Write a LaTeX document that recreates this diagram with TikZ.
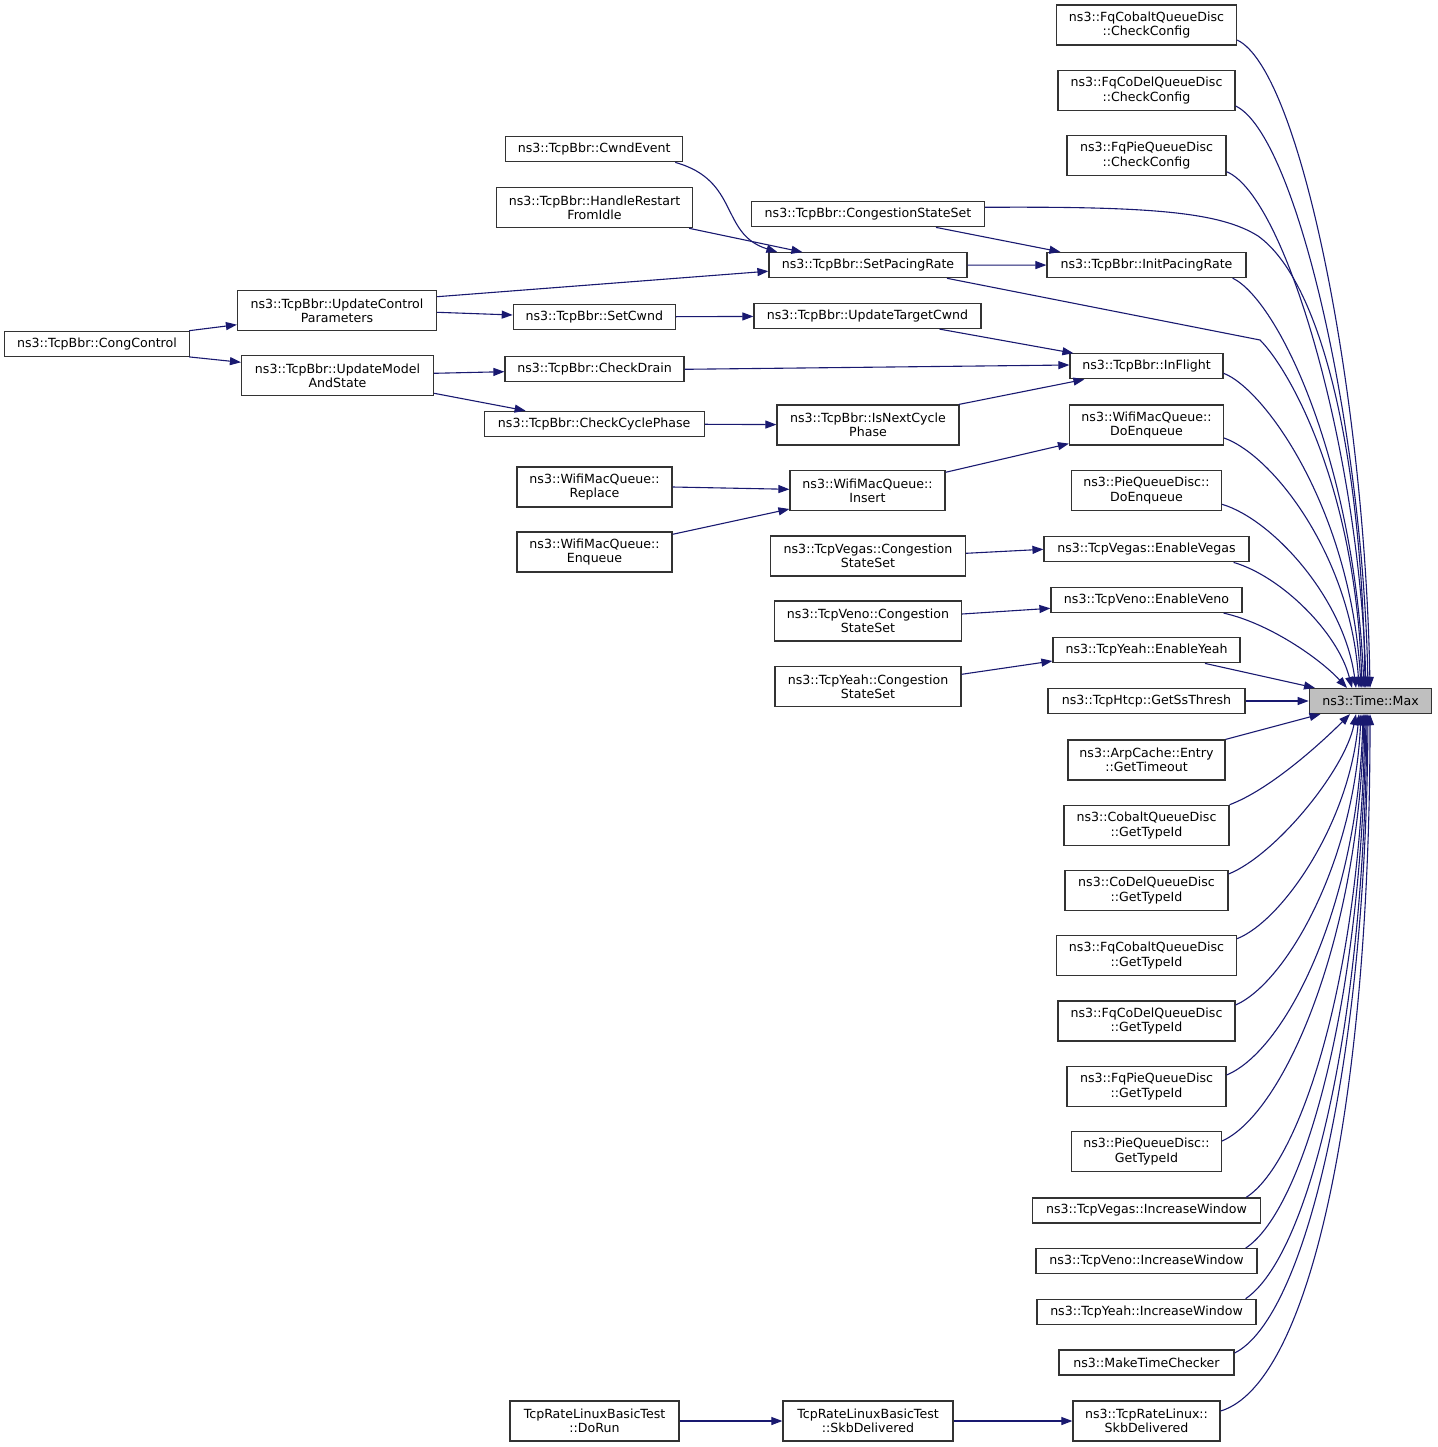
\documentclass[tikz,border=0pt]{standalone}
\usepackage{fontspec}
\setmainfont{DejaVu Sans}
\usetikzlibrary{arrows.meta}
\definecolor{edgeblue}{HTML}{191970}
\definecolor{boxline}{HTML}{333333}
\definecolor{maxfill}{HTML}{BFBFBF}
\newcommand{\carw}{-{Triangle[length=11pt,width=8pt]}}
\tikzset{
  fn/.style={draw=boxline, line width=1.2pt, fill=white, align=center, inner sep=0pt,
    minimum height=25, font=\fontsize{12.6}{14.5}\selectfont},
  fntwo/.style={fn, minimum height=40},
  callline/.style={draw=edgeblue, line width=1.1pt}
}
\begin{document}
\begin{tikzpicture}[x=1pt,y=-1pt]
\useasboundingbox (0,0) rectangle (1437,1447);
%the called function
\node[fn, fill=maxfill, minimum width=122.5] (max) at (1370.5,701) {ns3::Time::Max};
%direct callers
\node[fntwo, minimum width=180] (fqcobcc) at (1146.5,25) {ns3::FqCobaltQueueDisc\\::CheckConfig};
\node[fntwo, minimum width=177] (fqcodelcc) at (1146.5,90.5) {ns3::FqCoDelQueueDisc\\::CheckConfig};
\node[fntwo, minimum width=159] (fqpiecc) at (1146.5,155.7) {ns3::FqPieQueueDisc\\::CheckConfig};
\node[fn, minimum width=199] (bbrinitpr) at (1146.5,265) {ns3::TcpBbr::InitPacingRate};
\node[fn, minimum width=153] (bbrinflight) at (1146.5,366.3) {ns3::TcpBbr::InFlight};
\node[fntwo, minimum width=154] (wmqdoenq) at (1146.5,425) {ns3::WifiMacQueue::\\DoEnqueue};
\node[fntwo, minimum width=150] (piedoenq) at (1146.5,490.3) {ns3::PieQueueDisc::\\DoEnqueue};
\node[fn, minimum width=205] (vegasen) at (1146.5,549.3) {ns3::TcpVegas::EnableVegas};
\node[fn, minimum width=191] (venoen) at (1146.5,600) {ns3::TcpVeno::EnableVeno};
\node[fn, minimum width=187] (yeahen) at (1146.5,650.3) {ns3::TcpYeah::EnableYeah};
\node[fn, minimum width=197] (htcpss) at (1146.5,701) {ns3::TcpHtcp::GetSsThresh};
\node[fntwo, minimum width=157] (arpto) at (1146.5,760) {ns3::ArpCache::Entry\\::GetTimeout};
\node[fntwo, minimum width=165] (cobaltid) at (1146.5,825.3) {ns3::CobaltQueueDisc\\::GetTypeId};
\node[fntwo, minimum width=163] (codelid) at (1146.5,890.7) {ns3::CoDelQueueDisc\\::GetTypeId};
\node[fntwo, minimum width=180] (fqcobaltid) at (1146.5,955.7) {ns3::FqCobaltQueueDisc\\::GetTypeId};
\node[fntwo, minimum width=177] (fqcodelid) at (1146.5,1021) {ns3::FqCoDelQueueDisc\\::GetTypeId};
\node[fntwo, minimum width=159] (fqpieid) at (1146.5,1086.7) {ns3::FqPieQueueDisc\\::GetTypeId};
\node[fntwo, minimum width=150] (pieid) at (1146.5,1151.7) {ns3::PieQueueDisc::\\GetTypeId};
\node[fn, minimum width=228] (vegasinc) at (1146.5,1210.5) {ns3::TcpVegas::IncreaseWindow};
\node[fn, minimum width=221] (venoinc) at (1146.5,1261.2) {ns3::TcpVeno::IncreaseWindow};
\node[fn, minimum width=219] (yeahinc) at (1146.5,1311.8) {ns3::TcpYeah::IncreaseWindow};
\node[fn, minimum width=175] (mktimechk) at (1146.5,1362.5) {ns3::MakeTimeChecker};
\node[fntwo, minimum width=147] (trlskb) at (1146.5,1421) {ns3::TcpRateLinux::\\SkbDelivered};
%second rank
\node[fn, minimum width=233] (bbrcss) at (868,214.3) {ns3::TcpBbr::CongestionStateSet};
\node[fn, minimum width=198] (bbrsetpr) at (868,265.2) {ns3::TcpBbr::SetPacingRate};
\node[fn, minimum width=227] (bbrupdtgt) at (867.5,316) {ns3::TcpBbr::UpdateTargetCwnd};
\node[fntwo, minimum width=182] (bbrnextcyc) at (868,425) {ns3::TcpBbr::IsNextCycle\\Phase};
\node[fntwo, minimum width=155] (wmqinsert) at (867.5,490.8) {ns3::WifiMacQueue::\\Insert};
\node[fntwo, minimum width=195] (vegascss) at (868,556) {ns3::TcpVegas::Congestion\\StateSet};
\node[fntwo, minimum width=187] (venocss) at (868,621) {ns3::TcpVeno::Congestion\\StateSet};
\node[fntwo, minimum width=186] (yeahcss) at (868,686.7) {ns3::TcpYeah::Congestion\\StateSet};
\node[fntwo, minimum width=170] (trltskb) at (868,1421) {TcpRateLinuxBasicTest\\::SkbDelivered};
%third rank
\node[fn, minimum width=177] (bbrcwndev) at (594.2,149.3) {ns3::TcpBbr::CwndEvent};
\node[fntwo, minimum width=196] (bbrrestart) at (594.5,207.7) {ns3::TcpBbr::HandleRestart\\FromIdle};
\node[fn, minimum width=162] (bbrsetcwnd) at (594.3,317) {ns3::TcpBbr::SetCwnd};
\node[fn, minimum width=179] (bbrdrain) at (594.5,369.3) {ns3::TcpBbr::CheckDrain};
\node[fn, minimum width=220] (bbrcycle) at (594.2,423.8) {ns3::TcpBbr::CheckCyclePhase};
\node[fntwo, minimum width=155] (wmqreplace) at (594.5,487) {ns3::WifiMacQueue::\\Replace};
\node[fntwo, minimum width=155] (wmqenq) at (594.5,552) {ns3::WifiMacQueue::\\Enqueue};
\node[fntwo, minimum width=169] (trltrun) at (594.5,1421) {TcpRateLinuxBasicTest\\::DoRun};
%fourth and fifth rank
\node[fntwo, minimum width=199] (bbrupdctl) at (337,310.7) {ns3::TcpBbr::UpdateControl\\Parameters};
\node[fntwo, minimum width=192] (bbrupdmdl) at (337.5,375.7) {ns3::TcpBbr::UpdateModel\\AndState};
\node[fn, minimum width=185] (bbrcongctl) at (97,343.8) {ns3::TcpBbr::CongControl};
%calls into Max from above
\draw[callline,\carw] ([yshift=-15]fqcobcc.east) .. controls +(64,30) and +(-5,-290) .. ([xshift=-0.5]max.north);
\draw[callline,\carw] ([yshift=-15.5]fqcodelcc.east) .. controls +(60,28) and +(-5,-262) .. ([xshift=-2.5]max.north);
\draw[callline,\carw] ([yshift=-16]fqpiecc.east) .. controls +(60,25) and +(-6,-232) .. ([xshift=-4.5]max.north);
\draw[callline,\carw] ([yshift=7]bbrcss.east) .. controls +(166,-1) and +(-38,-24) .. (1258,236)
  .. controls +(62,44) and +(-3,-239) .. ([xshift=-5.5]max.north);
\draw[callline,\carw] ([xshift=-14]bbrinitpr.south east) .. controls +(45,22) and +(-10,-230) .. ([xshift=-6.5]max.north);
\draw[callline,\carw] ([xshift=79]bbrsetpr.south) -- (1260,340) .. controls +(30,30) and +(-6,-200) .. ([xshift=-8.5]max.north);
\draw[callline,\carw] ([yshift=-7]bbrinflight.east) .. controls +(40,15) and +(-10,-180) .. ([xshift=-9.5]max.north);
\draw[callline,\carw] ([yshift=-13]wmqdoenq.east) .. controls +(50,18) and +(-8,-130) .. ([xshift=-11.5]max.north);
\draw[callline,\carw] ([yshift=-14]piedoenq.east) .. controls +(50,15) and +(-12,-90) .. ([xshift=-14.5]max.north);
\draw[callline,\carw] ([xshift=-16]vegasen.south east) .. controls +(48,14) and +(-14,-55) .. ([xshift=-18.5]max.north);
\draw[callline,\carw] ([xshift=-19]venoen.south east) .. controls +(45,10) and +(-28,-30) .. ([xshift=-23.5]max.north);
\draw[callline,\carw] ([xshift=58.5]yeahen.south) -- ([xshift=-55.5]max.north);
\draw[callline,\carw] (htcpss) -- (max);
%calls into Max from below
\draw[callline,\carw] (arpto.north east) -- ([xshift=-50]max.south);
\draw[callline,\carw] (cobaltid.north east) .. controls +(40,-15) and +(-30,30) .. ([xshift=-20.5]max.south);
\draw[callline,\carw] ([yshift=16.7]codelid.east) .. controls +(47,-19) and +(-11,56) .. ([xshift=-14.5]max.south);
\draw[callline,\carw] ([yshift=17]fqcobaltid.east) .. controls +(45,-18) and +(-10,110) .. ([xshift=-11.5]max.south);
\draw[callline,\carw] ([yshift=16]fqcodelid.east) .. controls +(50,-22) and +(-7,150) .. ([xshift=-9.5]max.south);
\draw[callline,\carw] ([yshift=11.7]fqpieid.east) .. controls +(60,-25) and +(-5,190) .. ([xshift=-7.5]max.south);
\draw[callline,\carw] ([yshift=10.7]pieid.east) .. controls +(62,-28) and +(-5,225) .. ([xshift=-6.5]max.south);
\draw[callline,\carw] ([xshift=-15]vegasinc.north east) .. controls +(55,-35) and +(-4,260) .. ([xshift=-5.5]max.south);
\draw[callline,\carw] ([xshift=-12]venoinc.north east) .. controls +(58,-38) and +(-4,290) .. ([xshift=-4.5]max.south);
\draw[callline,\carw] ([xshift=-11]yeahinc.north east) .. controls +(62,-42) and +(-3,320) .. ([xshift=-3.5]max.south);
\draw[callline,\carw] ([yshift=9.5]mktimechk.east) .. controls +(70,-35) and +(-2,350) .. ([xshift=-2.5]max.south);
\draw[callline,\carw] ([yshift=10]trlskb.east) .. controls +(90,-27) and +(0,386) .. ([xshift=-0.5]max.south);
%TcpBbr callers
\draw[callline,\carw] ([xshift=68]bbrcss.south) -- ([xshift=14]bbrinitpr.north west);
\draw[callline,\carw] (bbrsetpr) -- (bbrinitpr);
\draw[callline,\carw] ([xshift=81]bbrcwndev.south) .. controls +(65,18) and +(-58,-18) .. ([xshift=9]bbrsetpr.north west);
\draw[callline,\carw] ([xshift=-4]bbrrestart.south east) -- ([xshift=34]bbrsetpr.north west);
\draw[callline,\carw] ([yshift=14]bbrupdctl.east) -- ([yshift=-6]bbrsetpr.west);
\draw[callline,\carw] ([yshift=-1.6]bbrupdctl.east) -- ([yshift=2]bbrsetcwnd.west);
\draw[callline,\carw] (bbrsetcwnd) -- (bbrupdtgt);
\draw[callline,\carw] ([xshift=72]bbrupdtgt.south) -- ([xshift=4]bbrinflight.north west);
\draw[callline,\carw] (bbrdrain.east) -- ([yshift=1.3]bbrinflight.west);
\draw[callline,\carw] ([xshift=91]bbrnextcyc.north) -- ([xshift=15]bbrinflight.south west);
\draw[callline,\carw] (bbrcycle) -- (bbrnextcyc);
\draw[callline,\carw] ([yshift=2.4]bbrupdmdl.east) -- ([yshift=-2.4]bbrdrain.west);
\draw[callline,\carw] ([yshift=-17.6]bbrupdmdl.east) -- ([xshift=42]bbrcycle.north west);
\draw[callline,\carw] ([xshift=-1]bbrcongctl.north east) -- ([yshift=-14]bbrupdctl.west);
\draw[callline,\carw] ([xshift=-1]bbrcongctl.south east) -- ([yshift=13.4]bbrupdmdl.west);
%WifiMacQueue callers
\draw[callline,\carw] ([yshift=18.5]wmqinsert.east) -- ([yshift=2]wmqdoenq.south west);
\draw[callline,\carw] (wmqreplace.east) -- ([yshift=1.5]wmqinsert.west);
\draw[callline,\carw] ([yshift=17.7]wmqenq.east) -- ([yshift=-18.2]wmqinsert.west);
%congestion state callers
\draw[callline,\carw] ([yshift=2.7]vegascss.east) -- (vegasen.west);
\draw[callline,\carw] ([yshift=7]venocss.east) -- ([yshift=-8.3]venoen.west);
\draw[callline,\carw] ([yshift=12.4]yeahcss.east) -- ([yshift=-10.7]yeahen.west);
%TcpRateLinux test
\draw[callline,\carw] (trltrun) -- (trltskb);
\draw[callline,\carw] (trltskb) -- (trlskb);
\end{tikzpicture}
\end{document}
